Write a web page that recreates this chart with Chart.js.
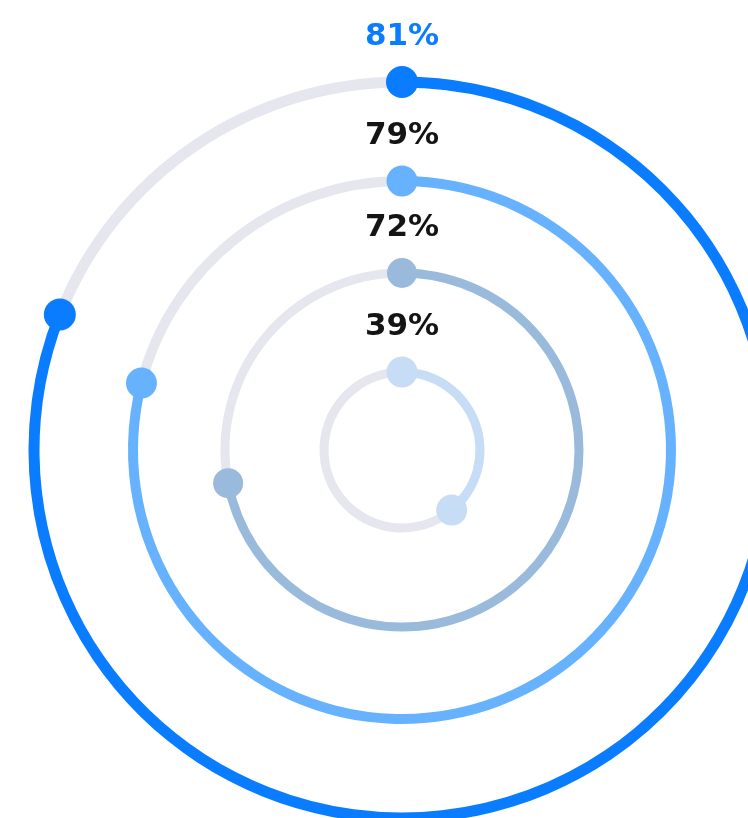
<!DOCTYPE html>
<html>
<head>
<meta charset="utf-8">
<script src="https://cdn.jsdelivr.net/npm/chart.js@4"></script>
<style>
  html, body { margin: 0; padding: 0; background: #fff; overflow: hidden; }
  #wrap { width: 748px; height: 818px; overflow: hidden; position: relative; }
  canvas { position: absolute; left: 0; top: 0; }
</style>
</head>
<body>
<div id="wrap"><canvas id="rings" width="804" height="900"></canvas></div>
<script>
// progress per ring, outermost first
const rotulos = ["81%", "79%", "72%", "39%"];
const valores = [81, 79, 72, 39];
const coresAnel = ["#0a7cff", "#66b2ff", "#99badb", "#c6ddf5"];
const coresRotulo = ["#0a7cff", "#141414", "#141414", "#141414"];

const corTrilha = "#e6e6ee";
const espessuras = [11, 10, 9, 9];   // ring thickness (weights)
const vaos = [88.5, 82.5, 90];      // gaps between rings (weights)
const raioPonto = [16, 15.5, 15, 15.5];

const datasets = [];
valores.forEach((v, i) => {
    datasets.push({
        data: [v, 100 - v],
        backgroundColor: [coresAnel[i], corTrilha],
        borderWidth: 0,
        weight: espessuras[i],
        anel: i
    });
    if (i < vaos.length) {
        datasets.push({
            data: [100],
            backgroundColor: ["rgba(0,0,0,0)"],
            borderWidth: 0,
            weight: vaos[i]
        });
    }
});

const pontosERotulos = {
    id: "pontosERotulos",
    afterDatasetsDraw(chart) {
        const ctx = chart.ctx;
        chart.data.datasets.forEach((ds, di) => {
            if (ds.anel === undefined) return;
            const i = ds.anel;
            const arco = chart.getDatasetMeta(di).data[0];
            const r = (arco.innerRadius + arco.outerRadius) / 2;
            ctx.save();
            ctx.fillStyle = coresAnel[i];
            [arco.startAngle, arco.endAngle].forEach(a => {
                ctx.beginPath();
                ctx.arc(arco.x + r * Math.cos(a), arco.y + r * Math.sin(a), raioPonto[i], 0, Math.PI * 2);
                ctx.fill();
            });
            ctx.font = "bold 31px 'DejaVu Sans'";
            ctx.textAlign = "center";
            ctx.textBaseline = "middle";
            ctx.fillStyle = coresRotulo[i];
            ctx.fillText(rotulos[i], arco.x, arco.y - r - 45);
            ctx.restore();
        });
    }
};

new Chart(document.getElementById("rings"), {
    type: "doughnut",
    data: { labels: ["valor", "resto"], datasets: datasets },
    options: {
        responsive: false,
        devicePixelRatio: 1,
        animation: false,
        cutout: 73.5,
        layout: { padding: { left: 28.5, right: 28.5, top: 76.5, bottom: 76.5 } },
        plugins: { legend: { display: false }, tooltip: { enabled: false } },
        events: []
    },
    plugins: [pontosERotulos]
});
</script>
</body>
</html>
